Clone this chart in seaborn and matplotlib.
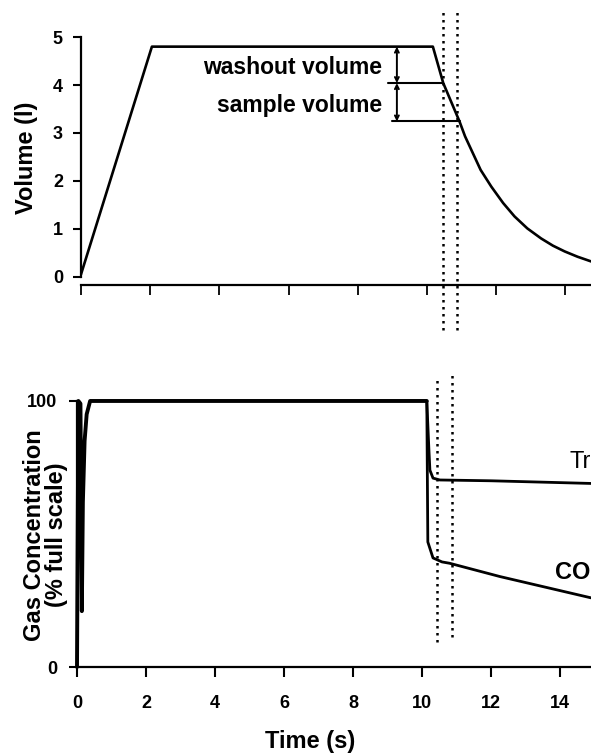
import numpy as np
import pandas as pd
import matplotlib
matplotlib.use("Agg")
import matplotlib.pyplot as plt
import seaborn as sns

# volume trace (top panel)
vol_time = [0.0, 2.05, 10.17, 10.47, 10.94, 11.10, 11.28, 11.55, 11.86, 12.20,
            12.53, 12.90, 13.30, 13.64, 13.98, 14.35, 14.75]
vol_litres = [0.05, 4.8, 4.8, 4.04, 3.24, 2.93, 2.65, 2.23, 1.88, 1.54,
              1.26, 1.01, 0.80, 0.65, 0.53, 0.42, 0.32]

# gas concentration, common part (inspiration + hold)
gas_time = [0.0, 0.04, 0.10, 0.14, 0.17, 0.22, 0.28, 0.38, 10.14]
gas_conc = [0, 100, 99, 21, 62, 85, 95, 100, 100]

# after the breath hold the two gases split
tracer_time = [10.14, 10.20, 10.23, 10.32, 10.52, 12.0, 14.9]
tracer_conc = [100, 82, 74, 71, 70.3, 70, 69]
co_time = [10.14, 10.17, 10.32, 10.58, 10.80, 12.26, 14.9]
co_conc = [100, 47, 41, 39.5, 39, 34, 26]

# sampling window (dotted lines)
window = [10.45, 10.86]

vol_ticks = [0, 1, 2, 3, 4, 5]
time_ticks = [0, 2, 4, 6, 8, 10, 12, 14]

sns.set_theme(style="ticks")
plt.rcParams["font.family"] = ["Liberation Sans", "DejaVu Sans"]
plt.rcParams["font.weight"] = "bold"
plt.rcParams["axes.linewidth"] = 1.6
for key in ["text.color", "axes.labelcolor", "xtick.color", "ytick.color",
            "axes.edgecolor"]:
    plt.rcParams[key] = "black"

fig = plt.figure(figsize=(5.91, 7.53), dpi=100)
ax1 = fig.add_axes([0.137, 0.6215, 0.863, 0.3293])
ax2 = fig.add_axes([0.1303, 0.1142, 0.8697, 0.3533])

# ---- top panel: volume ----
sns.lineplot(x=vol_time, y=vol_litres, ax=ax1, color="black", lw=1.9,
             estimator=None, sort=False)
ax1.set_xlim(0, 14.74)
ax1.set_ylim(-0.17, 5.0)
ax1.set_yticks(vol_ticks)
ax1.set_xticks(time_ticks)
ax1.set_xticklabels([])
ax1.spines["left"].set_bounds(0, 5)
ax1.tick_params(axis="y", length=6, width=1.5, pad=7, labelsize=13)
ax1.tick_params(axis="x", length=7, width=1.3)
ax1.set_ylabel("Volume (l)", fontsize=17, fontweight="bold")
ax1.yaxis.set_label_coords(-0.085, 0.512)

# annotation of washout / sample volumes
ax1.plot([8.87, 10.47], [4.04, 4.04], color="black", lw=1.5)
ax1.plot([8.99, 10.94], [3.24, 3.24], color="black", lw=1.5)
for lo, hi in [(4.04, 4.8), (3.24, 4.04)]:
    ax1.annotate("", xy=(9.13, hi), xytext=(9.13, lo),
                 arrowprops=dict(arrowstyle="<->", lw=1.4, color="black",
                                 shrinkA=0, shrinkB=0, mutation_scale=7))
ax1.text(8.70, 4.375, "washout volume", ha="right", va="center", fontsize=16.5)
ax1.text(8.70, 3.58, "sample volume", ha="right", va="center", fontsize=16.5)

for t in window:
    ax1.plot([t, t], [-1.10, 5.52], color="black", lw=1.8, ls=(0, (1, 1.8)),
             clip_on=False)

# ---- bottom panel: gas concentration ----
sns.lineplot(x=gas_time, y=gas_conc, ax=ax2, color="black", lw=2.8,
             estimator=None, sort=False, clip_on=False)
sns.lineplot(x=tracer_time, y=tracer_conc, ax=ax2, color="black", lw=2.0,
             estimator=None, sort=False)
sns.lineplot(x=co_time, y=co_conc, ax=ax2, color="black", lw=2.0,
             estimator=None, sort=False)
ax2.set_xlim(0, 14.9)
ax2.set_ylim(0, 100)
ax2.set_yticks([0, 100])
ax2.set_xticks(time_ticks)
ax2.tick_params(axis="y", length=6, width=1.5, pad=8, labelsize=13)
ax2.tick_params(axis="x", length=7, width=1.5, pad=13, labelsize=13)
ax2.set_ylabel("Gas Concentration\n(% full scale)", fontsize=17,
               fontweight="bold", linespacing=0.95)
ax2.yaxis.set_label_coords(-0.018, 0.496)
ax2.set_xlabel("Time (s)", fontsize=17, fontweight="bold")
ax2.xaxis.set_label_coords(0.453, -0.237)

ax2.plot([window[0] - 0.02] * 2, [9.4, 108], color="black", lw=1.8,
         ls=(0, (1, 1.8)), clip_on=False)
ax2.plot([window[1]] * 2, [11.3, 110.5], color="black", lw=1.8,
         ls=(0, (1, 1.8)), clip_on=False)

ax2.text(14.29, 77, "Tr", ha="left", va="center", fontsize=17,
         fontweight="normal")
ax2.text(13.86, 35.7, "CO", ha="left", va="center", fontsize=17)

sns.despine(fig=fig)

fig.savefig("out.png", dpi=100)
